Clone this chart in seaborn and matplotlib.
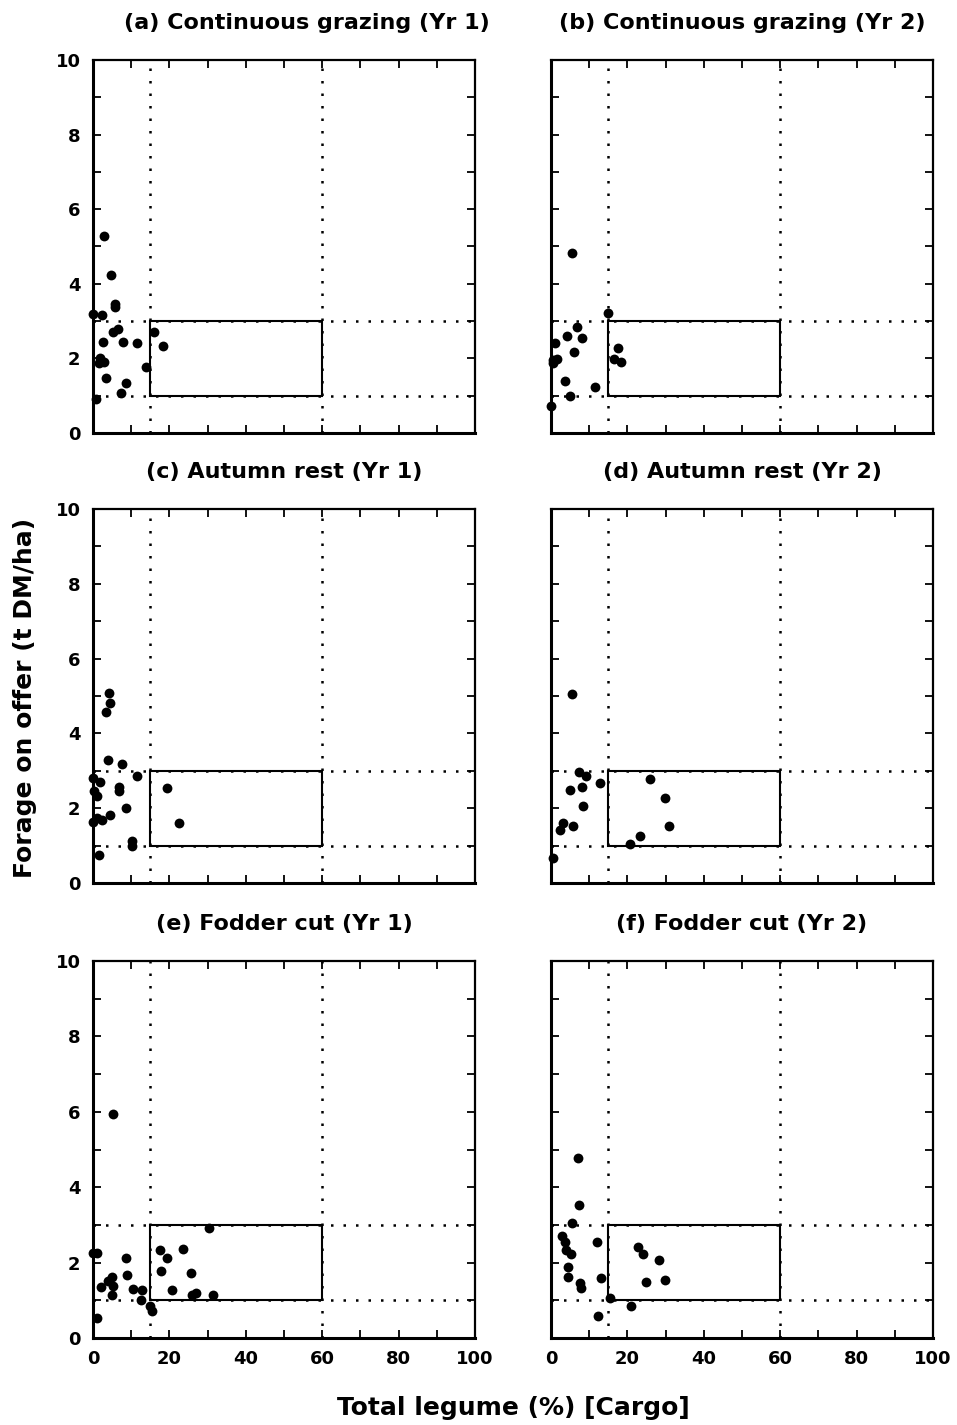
import numpy as np
import pandas as pd
import matplotlib
matplotlib.use("Agg")
import matplotlib.pyplot as plt
import seaborn as sns
from matplotlib.patches import Rectangle

# data: legume % (x) and forage on offer (y)
titles = ["(a) Continuous grazing (Yr 1)", "(b) Continuous grazing (Yr 2)",
          "(c) Autumn rest (Yr 1)", "(d) Autumn rest (Yr 2)",
          "(e) Fodder cut (Yr 1)", "(f) Fodder cut (Yr 2)"]

a_x = [3.0, 4.7, 5.8, 5.8, 0.0, 2.3, 16.0, 5.3, 6.6, 18.4, 2.7, 7.9, 11.6,
       1.8, 2.9, 1.6, 13.9, 3.4, 8.6, 7.2, 0.8]
a_y = [5.28, 4.24, 3.46, 3.37, 3.18, 3.16, 2.70, 2.71, 2.78, 2.34, 2.45, 2.43, 2.40,
       2.00, 1.91, 1.87, 1.78, 1.47, 1.35, 1.08, 0.90]

b_x = [5.6, 15.0, 6.9, 4.1, 8.2, 1.0, 5.9, 17.5, 0.6, 1.5, 16.4, 18.3, 0.6,
       3.7, 11.5, 5.0, 0.0]
b_y = [4.82, 3.21, 2.85, 2.61, 2.54, 2.40, 2.16, 2.27, 1.96, 1.98, 1.98, 1.91, 1.87,
       1.40, 1.22, 1.00, 0.72]

c_x = [4.3, 4.5, 3.4, 4.0, 7.5, 11.4, 0.0, 1.8, 6.8, 6.8, 0.3, 1.0, 19.5,
       8.6, 4.5, 1.0, 2.4, 0.0, 22.6, 10.3, 10.1, 1.6]
c_y = [5.07, 4.80, 4.58, 3.29, 3.17, 2.86, 2.82, 2.71, 2.57, 2.46, 2.47, 2.33, 2.55,
       2.00, 1.82, 1.73, 1.68, 1.64, 1.61, 1.12, 0.99, 0.75]

d_x = [5.4, 7.3, 9.2, 12.9, 8.2, 5.0, 26.0, 29.9, 8.5, 30.8, 3.1, 2.4, 5.7,
       23.4, 20.7, 0.5]
d_y = [5.05, 2.97, 2.86, 2.67, 2.57, 2.49, 2.77, 2.28, 2.06, 1.53, 1.61, 1.42, 1.53,
       1.26, 1.03, 0.68]

e_x = [5.2, 30.4, 17.5, 23.5, 0.1, 1.1, 19.5, 8.6, 17.8, 25.7, 5.1, 8.8, 4.0,
       2.1, 5.3, 10.4, 12.9, 20.8, 26.9, 26.0, 31.5, 4.9, 12.6, 14.9, 15.4, 1.1]
e_y = [5.94, 2.93, 2.33, 2.35, 2.25, 2.25, 2.11, 2.11, 1.78, 1.72, 1.63, 1.66, 1.50,
       1.35, 1.39, 1.30, 1.27, 1.27, 1.20, 1.14, 1.14, 1.14, 1.01, 0.85, 0.72, 0.54]

f_x = [7.0, 7.3, 5.6, 2.8, 3.7, 12.0, 22.7, 3.9, 24.2, 5.2, 28.2, 4.4, 4.4,
       13.0, 29.9, 24.8, 7.6, 7.9, 15.5, 21.0, 12.2]
f_y = [4.78, 3.53, 3.04, 2.71, 2.55, 2.54, 2.41, 2.33, 2.23, 2.22, 2.07, 1.88, 1.61,
       1.60, 1.55, 1.48, 1.47, 1.33, 1.07, 0.85, 0.59]

target_x = [15, 60]
target_y = [1, 3]

panels = [(a_x, a_y), (b_x, b_y), (c_x, c_y), (d_x, d_y), (e_x, e_y), (f_x, f_y)]

sns.set_style("ticks")
plt.rcParams['font.family'] = ['DejaVu Sans']
plt.rcParams['font.weight'] = 'bold'
for k in ['text.color', 'axes.labelcolor', 'xtick.color', 'ytick.color', 'axes.edgecolor']:
    plt.rcParams[k] = 'black'

fig = plt.figure(figsize=(9.57, 14.25), dpi=100)
W, H = 957, 1425
lefts = [93, 551]
tops = [60, 509, 961]
bottoms = [433, 883, 1338]
pw = 382
title_x = [0.56, 0.5, 0.5, 0.5, 0.5, 0.5]
dots = (0, (1, 4))

for i, (xs, ys) in enumerate(panels):
    r, c = divmod(i, 2)
    l = lefts[c]
    t, b = tops[r], bottoms[r]
    ax = fig.add_axes([l / W, 1 - b / H, pw / W, (b - t) / H])
    df = pd.DataFrame({"legume": xs, "forage": ys})

    for yv in target_y:
        ax.axhline(yv, color="black", ls=dots, lw=1.8, zorder=1)
    for xv in target_x:
        ax.axvline(xv, color="black", ls=dots, lw=1.8, zorder=1)
    ax.add_patch(Rectangle((target_x[0], target_y[0]), target_x[1] - target_x[0],
                           target_y[1] - target_y[0], fill=False, ec="black",
                           lw=1.5, zorder=2))

    sns.scatterplot(data=df, x="legume", y="forage", ax=ax, color="black",
                    s=50, edgecolor="black", linewidth=0, zorder=3, clip_on=False)

    ax.set_xlim(0, 100)
    ax.set_ylim(0, 10)
    ax.tick_params(direction="in", top=True, right=True, length=6, width=1.3,
                   labelsize=13, pad=9)
    for sp in ax.spines.values():
        sp.set_visible(True)
        sp.set_linewidth(1.6)
    ax.spines['left'].set_linewidth(2.2)
    ax.spines['bottom'].set_linewidth(2.2)

    ax.set_xticks(range(0, 101, 10))
    ax.set_yticks(range(0, 11))
    if r == 2:
        ax.set_xticklabels([str(v) if v % 20 == 0 else "" for v in range(0, 101, 10)],
                           fontweight="bold")
    else:
        ax.set_xticklabels([])
    if c == 0:
        ax.set_yticklabels([str(v) if v % 2 == 0 else "" for v in range(0, 11)],
                           fontweight="bold")
    else:
        ax.set_yticklabels([])
    ax.set_xlabel("")
    ax.set_ylabel("")
    ax.set_title(titles[i], fontsize=16, fontweight="bold", pad=22, x=title_x[i])

fig.text(25 / W, 1 - 698 / H, "Forage on offer (t DM/ha)", rotation=90,
         ha="center", va="center", fontsize=18, fontweight="bold")
fig.text(513 / W, 1 - 1408 / H, "Total legume (%) [Cargo]", ha="center",
         va="center", fontsize=18, fontweight="bold")

fig.savefig("out.png", dpi=100, facecolor="white")
